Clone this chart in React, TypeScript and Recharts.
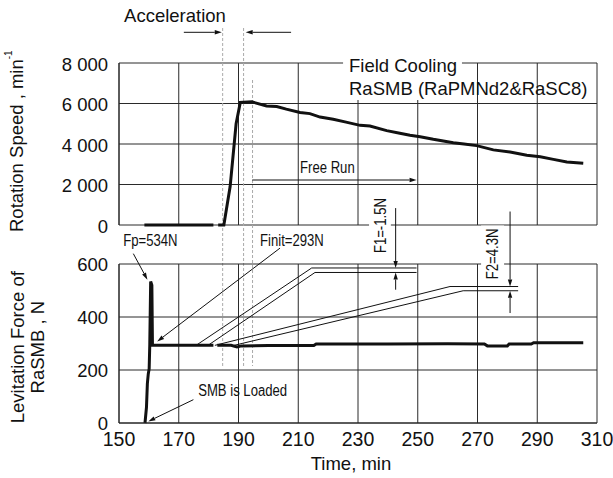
import React from 'react';
import {
  LineChart,
  Line,
  XAxis,
  YAxis,
  CartesianGrid,
  ReferenceLine,
  ReferenceDot,
  ReferenceArea,
} from 'recharts';

// ---------- data ----------
const timeTicks = [150, 170, 190, 210, 230, 250, 270, 290, 310];
const speedTicks = [0, 2000, 4000, 6000, 8000];
const forceTicks = [0, 200, 400, 600];

// Rotation speed (min^-1) vs time (min)
const speedTime = [158.5, 181.6, 182.4, 183.2, 185.1, 187.2, 189.2, 190.6, 194.5, 199.4, 202.8, 206.0, 210.6, 213.9, 217.3, 221.7, 226.0, 230.7, 234.0, 239.6, 244.0, 247.4, 250.8, 255.2, 261.9, 265.5, 269.7, 275.3, 280.9, 286.5, 291.0, 295.4, 299.9, 305.4];
const speedValues = [0, 0, null, 0, 0, 1900, 5000, 6050, 6080, 5880, 5850, 5720, 5560, 5500, 5330, 5220, 5080, 4920, 4890, 4660, 4530, 4430, 4360, 4230, 4060, 4000, 3920, 3710, 3600, 3440, 3370, 3240, 3110, 3050];

// Levitation force (N) vs time (min)
const forceTime = [158.7, 159.2, 159.5, 159.8, 160.1, 160.3, 160.6, 161.0, 161.2, 175.0, 181.6, 182.2, 182.9, 187.5, 189.5, 191.0, 200.0, 215.2, 216.0, 240.0, 260.0, 272.3, 273.3, 280.0, 280.6, 288.0, 288.8, 305.4];
const forceValues = [0, 60, 150, 185, 205, 295, 534, 520, 293, 293, 293, null, 293, 293, 287, 291, 292, 292, 298, 298, 299, 298, 291, 291, 298, 298, 303, 303];

// callout outlines (time, force)
const f1UpperTime = [175.8, 214.5, 249.6];
const f1UpperForce = [293, 585, 585];
const f1LowerTime = [179.8, 215.6, 249.6];
const f1LowerForce = [293, 568, 568];
const f2UpperTime = [182.1, 260.8, 283.6];
const f2UpperForce = [293, 515, 515];
const f2LowerTime = [188.5, 265.2, 283.6];
const f2LowerForce = [293, 499, 499];

// annotation anchors (data coordinates)
const accelTimes = [184.7, 191.7, 194.7];
const accelTops = [9728, 9728, 7160];
const dashedBottom = -6963;

const FONT = "'Liberation Sans', Arial, Helvetica, sans-serif";
const INK = '#111';
const GRID = '#2a2a2a';

const speedData = speedTime.map((t, i) => ({ t, v: speedValues[i] }));
const forceData = forceTime.map((t, i) => ({ t, f: forceValues[i] }));
const zip = (ts: number[], fs: number[]) => ts.map((t, i) => ({ t, f: fs[i] }));
const f1Upper = zip(f1UpperTime, f1UpperForce);
const f1Lower = zip(f1LowerTime, f1LowerForce);
const f2Upper = zip(f2UpperTime, f2UpperForce);
const f2Lower = zip(f2LowerTime, f2LowerForce);

const fmtSpeed = (v: number) =>
  v >= 1000 ? `${Math.floor(v / 1000)} ${String(v % 1000).padStart(3, '0')}` : String(v);

// ---------- shapes ----------
const arrowShape = (p: any) => {
  const { x1, y1, x2, y2 } = p;
  const dx = x2 - x1;
  const dy = y2 - y1;
  const len = Math.hypot(dx, dy) || 1;
  const ux = dx / len;
  const uy = dy / len;
  const L = 7;
  const W = 2.2;
  const bx = x2 - ux * L;
  const by = y2 - uy * L;
  const pts = `${x2},${y2} ${bx - uy * W},${by + ux * W} ${bx + uy * W},${by - ux * W}`;
  return (
    <g>
      <line x1={x1} y1={y1} x2={bx} y2={by} stroke={INK} strokeWidth={1} />
      <polygon points={pts} fill={INK} />
    </g>
  );
};

const wideText = (label: string, anchor: 'start' | 'middle' | 'end') => (p: any) => (
  <text
    x={Math.round(p.cx)}
    y={Math.round(p.cy)}
    fontSize={18.5}
    fontWeight={400}
    fill={INK}
    stroke="none"
    textAnchor={anchor}
    fontFamily={FONT}
  >
    {label}
  </text>
);

const narrowText = (label: string) => (p: any) => (
  <text
    transform={`translate(${p.cx},${p.cy}) scale(0.82,1)`}
    fontSize={16}
    fill={INK}
    stroke="none"
    fontFamily={FONT}
  >
    {label}
  </text>
);

const narrowRotated = (label: string) => (p: any) => (
  <text
    transform={`translate(${p.cx},${p.cy}) rotate(-90) scale(0.82,1)`}
    fontSize={16}
    fill={INK}
    stroke="none"
    textAnchor="middle"
    dy="0.35em"
    fontFamily={FONT}
  >
    {label}
  </text>
);

// axis titles drawn beside the plot
const topYTitle = (p: any) => (
  <text
    transform={`translate(${p.cx},${p.cy}) rotate(-90)`}
    fontSize={18.5}
    fill={INK}
    stroke="none"
    fontFamily={FONT}
  >
    Rotation Speed , min
    <tspan fontSize={10} dy={-11}>-1</tspan>
  </text>
);

const bottomYTitle = (p: any) => (
  <g>
    <text transform={`translate(${p.cx},${p.cy}) rotate(-90)`} fontSize={18.5} fill={INK} stroke="none" textAnchor="middle" fontFamily={FONT}>
      Levitation Force of
    </text>
    <text transform={`translate(${p.cx + 20},${p.cy}) rotate(-90)`} fontSize={18.5} fill={INK} stroke="none" textAnchor="middle" fontFamily={FONT}>
      RaSMB , N
    </text>
  </g>
);

const W = 613;
const H = 478;

export default function App() {
  return (
    <div style={{ position: 'absolute', left: 0, top: 0, width: W, height: H, background: '#fff', fontFamily: FONT }}>
      {/* Top: rotation speed */}
      <div style={{ position: 'absolute', left: 0, top: 0 }}>
        <LineChart width={W} height={H} data={speedData} margin={{ top: 63, right: 16, bottom: 253, left: 0 }}>
          <CartesianGrid stroke={GRID} />
          <XAxis type="number" dataKey="t" domain={[150, 310]} ticks={timeTicks} hide />
          <YAxis
            type="number"
            domain={[0, 8000]}
            ticks={speedTicks}
            width={119}
            tickLine={false}
            tickSize={6}
            tickMargin={5}
            axisLine={{ stroke: '#222' }}
            tick={{ fontSize: 18.5, fill: INK, dy: 1 }}
            tickFormatter={fmtSpeed}
            interval={0}
          />
          {accelTimes.map((t, i) => (
            <ReferenceLine
              key={`d${i}`}
              segment={[{ x: t, y: accelTops[i] }, { x: t, y: dashedBottom }]}
              stroke="#aaa"
              strokeDasharray="3 2"
              strokeWidth={1}
              ifOverflow="visible"
            />
          ))}
          <ReferenceArea x1={225} x2={264.8} y1={6173} y2={8395} fill="#fff" fillOpacity={1} stroke="none" ifOverflow="visible" />
          <ReferenceDot x={118} y={-346} r={0} ifOverflow="visible" shape={topYTitle} />
          <ReferenceDot x={168.6} y={10049} r={0} ifOverflow="visible" shape={wideText('Acceleration', 'middle')} />
          <ReferenceLine segment={[{ x: 171.7, y: 9516 }, { x: 184.4, y: 9516 }]} ifOverflow="visible" shape={arrowShape} />
          <ReferenceLine segment={[{ x: 207.6, y: 9516 }, { x: 192.4, y: 9516 }]} ifOverflow="visible" shape={arrowShape} />
          <ReferenceDot x={227.1} y={7570} r={0} ifOverflow="visible" shape={wideText('Field Cooling', 'start')} />
          <ReferenceDot x={227.0} y={6444} r={0} ifOverflow="visible" shape={wideText('RaSMB (RaPMNd2&RaSC8)', 'start')} />
          <ReferenceDot x={210.6} y={2568} r={0} ifOverflow="visible" shape={narrowText('Free Run')} />
          <ReferenceLine segment={[{ x: 194.6, y: 2222 }, { x: 249.6, y: 2222 }]} ifOverflow="visible" shape={arrowShape} />
          <Line
            type="linear"
            dataKey="v"
            stroke={INK}
            strokeWidth={3}
            dot={false}
            activeDot={false}
            isAnimationActive={false}
          />
        </LineChart>
      </div>

      {/* Bottom: levitation force */}
      <div style={{ position: 'absolute', left: 0, top: 0 }}>
        <LineChart width={W} height={H} data={forceData} margin={{ top: 264, right: 16, bottom: 0, left: 0 }}>
          <CartesianGrid stroke={GRID} />
          <XAxis
            type="number"
            dataKey="t"
            domain={[150, 310]}
            ticks={timeTicks}
            interval={0}
            height={55}
            tickLine={false}
            tickSize={0}
            tickMargin={9}
            axisLine={{ stroke: '#222' }}
            tick={{ fontSize: 19.5, fill: INK }}
          />
          <YAxis
            type="number"
            domain={[0, 600]}
            ticks={forceTicks}
            width={119}
            tickLine={false}
            tickSize={6}
            tickMargin={5}
            axisLine={{ stroke: '#222' }}
            tick={{ fontSize: 18.5, fill: INK, dy: 0 }}
            interval={0}
          />
          <ReferenceArea x1={233.7} x2={241.0} y1={639} y2={850} fill="#fff" fillOpacity={1} stroke="none" ifOverflow="visible" />
          <ReferenceArea x1={271.2} x2={278.9} y1={533} y2={745} fill="#fff" fillOpacity={1} stroke="none" ifOverflow="visible" />
          <ReferenceDot x={118.3} y={286} r={0} ifOverflow="visible" shape={bottomYTitle} />
          <ReferenceDot x={227.7} y={-176} r={0} ifOverflow="visible" shape={wideText('Time, min', 'middle')} />
          <ReferenceDot x={151.4} y={669} r={0} ifOverflow="visible" shape={narrowText('Fp=534N')} />
          <ReferenceDot x={197.2} y={669} r={0} ifOverflow="visible" shape={narrowText('Finit=293N')} />
          <ReferenceDot x={176.5} y={103} r={0} ifOverflow="visible" shape={narrowText('SMB is Loaded')} />
          <ReferenceDot x={237.4} y={745} r={0} ifOverflow="visible" shape={narrowRotated('F1=-1.5N')} />
          <ReferenceDot x={275.0} y={638} r={0} ifOverflow="visible" shape={narrowRotated('F2=4.3N')} />
          <ReferenceLine segment={[{ x: 154.8, y: 639 }, { x: 159.5, y: 541 }]} ifOverflow="visible" shape={arrowShape} />
          <ReferenceLine segment={[{ x: 203.9, y: 660 }, { x: 162.8, y: 308 }]} ifOverflow="visible" shape={arrowShape} />
          <ReferenceLine segment={[{ x: 174.9, y: 88 }, { x: 159.8, y: 6 }]} ifOverflow="visible" shape={arrowShape} />
          <ReferenceLine segment={[{ x: 242.6, y: 811 }, { x: 242.6, y: 585 }]} ifOverflow="visible" shape={arrowShape} />
          <ReferenceLine segment={[{ x: 242.6, y: 503 }, { x: 242.6, y: 568 }]} ifOverflow="visible" shape={arrowShape} />
          <ReferenceLine segment={[{ x: 280.9, y: 798 }, { x: 280.9, y: 515 }]} ifOverflow="visible" shape={arrowShape} />
          <ReferenceLine segment={[{ x: 280.9, y: 415 }, { x: 280.9, y: 499 }]} ifOverflow="visible" shape={arrowShape} />
          {[f1Upper, f1Lower, f2Upper, f2Lower].map((d, i) => (
            <Line
              key={`c${i}`}
              data={d}
              type="linear"
              dataKey="f"
              stroke={INK}
              strokeWidth={1}
              dot={false}
              activeDot={false}
              isAnimationActive={false}
            />
          ))}
          <Line
            type="linear"
            dataKey="f"
            stroke={INK}
            strokeWidth={3}
            dot={false}
            activeDot={false}
            isAnimationActive={false}
          />
        </LineChart>
      </div>
    </div>
  );
}
